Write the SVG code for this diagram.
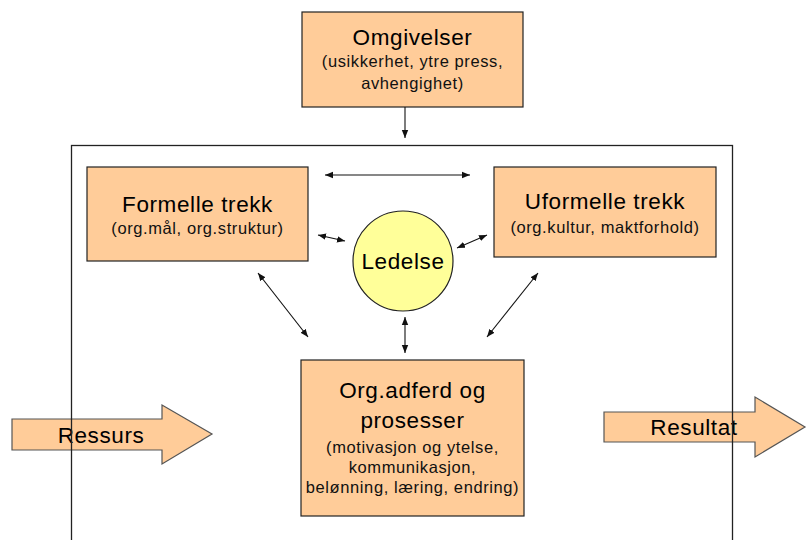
<svg xmlns="http://www.w3.org/2000/svg" width="808" height="540" viewBox="0 0 808 540">
<style>
.box{fill:#FFCC99;stroke:#222;stroke-width:1.2}
.big{fill:#FFCC99;stroke:#555;stroke-width:1.2}
.t{font-family:"Liberation Sans",Arial,sans-serif;font-size:22.5px;letter-spacing:0.6px;fill:#000;text-anchor:middle}
.s{font-family:"Liberation Sans",Arial,sans-serif;font-size:16.5px;letter-spacing:0.6px;fill:#111;text-anchor:middle}
.c{stroke:#111;stroke-width:1.1;fill:none}
</style>
<defs>
<marker id="ah" viewBox="0 0 10 10" refX="10" refY="5" markerWidth="8" markerHeight="8" markerUnits="userSpaceOnUse" orient="auto-start-reverse">
<path d="M0,1 L10,5 L0,9 Z" fill="#111"/>
</marker>
</defs>
<rect width="808" height="540" fill="#fff"/>

<g id="ressurs">
<path class="big" d="M12,419 H162 V405 L212,434 L162,464 V450 H12 Z"/>
<text class="t" x="101" y="443">Ressurs</text>
</g>
<g id="resultat">
<path class="big" d="M604,412 H755 V397 L805,427 L755,457 V442 H604 Z"/>
<text class="t" x="694" y="435">Resultat</text>
</g>

<g id="organisasjon">
<rect x="71.5" y="145.5" width="661" height="420" fill="none" stroke="#222" stroke-width="1.3"/>
</g>

<g id="omgivelser">
<rect class="box" x="302" y="12" width="221" height="95"/>
<text class="t" x="412.5" y="45">Omgivelser</text>
<text class="s" x="412.5" y="67">(usikkerhet, ytre press,</text>
<text class="s" x="412.5" y="89">avhengighet)</text>
</g>

<g id="formelle">
<rect class="box" x="87" y="167" width="221" height="94"/>
<text class="t" x="197.5" y="212">Formelle trekk</text>
<text class="s" x="197.5" y="234">(org.mål, org.struktur)</text>
</g>

<g id="uformelle">
<rect class="box" x="494" y="167" width="222" height="90"/>
<text class="t" x="605" y="209">Uformelle trekk</text>
<text class="s" x="605" y="233">(org.kultur, maktforhold)</text>
</g>

<g id="ledelse">
<circle cx="403" cy="261" r="50" fill="#FFFF99" stroke="#222" stroke-width="1.2"/>
<text class="t" x="403" y="269">Ledelse</text>
</g>

<g id="orgadferd">
<rect class="box" x="301" y="360" width="223" height="156"/>
<text class="t" x="412.5" y="398">Org.adferd og</text>
<text class="t" x="412.5" y="428">prosesser</text>
<text class="s" x="412.5" y="453">(motivasjon og ytelse,</text>
<text class="s" x="412.5" y="473">kommunikasjon,</text>
<text class="s" x="412.5" y="493">belønning, læring, endring)</text>
</g>

<g id="connectors">
<line class="c" x1="405" y1="107" x2="405" y2="138" marker-end="url(#ah)"/>
<line class="c" x1="325" y1="175" x2="470" y2="175" marker-start="url(#ah)" marker-end="url(#ah)"/>
<line class="c" x1="318" y1="235" x2="345" y2="241" marker-start="url(#ah)" marker-end="url(#ah)"/>
<line class="c" x1="457" y1="248" x2="487" y2="235" marker-start="url(#ah)" marker-end="url(#ah)"/>
<line class="c" x1="258" y1="273" x2="308" y2="337" marker-start="url(#ah)" marker-end="url(#ah)"/>
<line class="c" x1="538" y1="273" x2="487" y2="337" marker-start="url(#ah)" marker-end="url(#ah)"/>
<line class="c" x1="405" y1="317" x2="405" y2="353" marker-start="url(#ah)" marker-end="url(#ah)"/>
</g>
</svg>
